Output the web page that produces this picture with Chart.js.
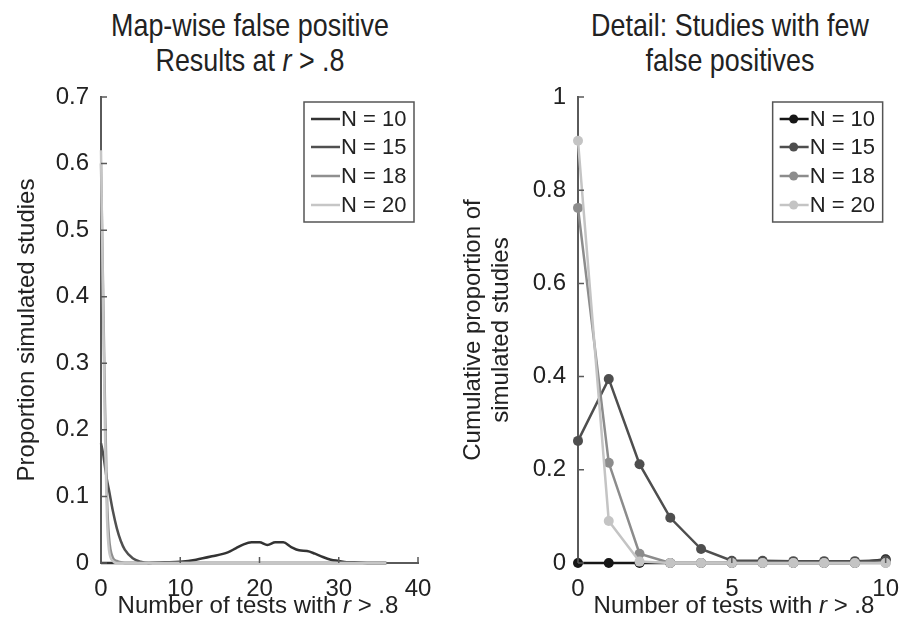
<!DOCTYPE html>
<html>
<head>
<meta charset="utf-8">
<script src="https://cdn.jsdelivr.net/npm/chart.js@4"></script>
<style>
  body { margin: 0; width: 911px; height: 639px; background: #fff; position: relative; overflow: hidden; font-family: "Liberation Sans", Arial, sans-serif; }
  .box { position: absolute; top: 0; height: 639px; }
  .title { position: absolute; top: 8px; width: 420px; text-align: center; font-family: "Liberation Sans Narrow", "Liberation Sans", sans-serif; font-size: 32px; line-height: 35px; color: #222; transform: scaleX(0.84); }
  .xlabel { position: absolute; top: 591px; width: 400px; text-align: center; font-size: 24px; line-height: 28px; color: #222; }
</style>
</head>
<body>
<div class="title" style="left:40px">Map-wise false positive<br>Results at <i>r</i> &gt; .8</div>
<div class="title" style="left:520px">Detail: Studies with few<br>false positives</div>
<div class="box" style="left:0;width:455px"><canvas id="left"></canvas></div>
<div class="box" style="left:455px;width:456px"><canvas id="right"></canvas></div>
<div class="xlabel" style="left:58px">Number of tests with <i>r</i> &gt; .8</div>
<div class="xlabel" style="left:534px">Number of tests with <i>r</i> &gt; .8</div>
<script>
// left panel: smoothed distribution
const leftX = [0, 0.25, 0.5, 0.75, 1, 1.5, 2, 2.5, 3, 4, 5, 6, 8, 10, 12, 14, 16, 17, 18, 19, 20, 21, 22, 23, 24, 25, 26, 27, 28, 29, 30, 31, 32, 34, 36];
const leftN10 = [0, 0, 0, 0, 0, 0, 0, 0, 0, 0, 0, 0, 0.001, 0.002, 0.005, 0.01, 0.016, 0.022, 0.028, 0.031, 0.031, 0.027, 0.031, 0.031, 0.024, 0.019, 0.018, 0.014, 0.009, 0.005, 0.003, 0.001, 0.001, 0, 0];
const leftN15 = [0.18, 0.165, 0.145, 0.125, 0.11, 0.078, 0.052, 0.033, 0.02, 0.007, 0.002, 0, 0, 0, 0, 0, 0, 0, 0, 0, 0, 0, 0, 0, 0, 0, 0, 0, 0, 0, 0, 0, 0, 0, 0];
const leftN18 = [0.6, 0.42, 0.24, 0.1, 0.04, 0.008, 0.003, 0.001, 0, 0, 0, 0, 0, 0, 0, 0, 0, 0, 0, 0, 0, 0, 0, 0, 0, 0, 0, 0, 0, 0, 0, 0, 0, 0, 0];
const leftN20 = [0.62, 0.4, 0.2, 0.07, 0.02, 0.003, 0, 0, 0, 0, 0, 0, 0, 0, 0, 0, 0, 0, 0, 0, 0, 0, 0, 0, 0, 0, 0, 0, 0, 0, 0, 0, 0, 0, 0];

// right panel: few false positives
const rightX = [0, 1, 2, 3, 4, 5, 6, 7, 8, 9, 10];
const rightN10 = [0, 0, 0, 0, 0, 0, 0, 0, 0, 0, 0.008];
const rightN15 = [0.262, 0.395, 0.212, 0.097, 0.03, 0.005, 0.005, 0.004, 0.004, 0.004, 0.006];
const rightN18 = [0.762, 0.215, 0.02, 0, 0, 0, 0, 0, 0, 0, 0];
const rightN20 = [0.906, 0.09, 0.003, 0, 0, 0, 0, 0, 0, 0, 0];

const seriesNames = ['N = 10', 'N = 15', 'N = 18', 'N = 20'];
const leftColors = ['#333333', '#505050', '#8f8f8f', '#c6c6c6'];
const rightColors = ['#161616', '#4e4e4e', '#8c8c8c', '#c4c4c4'];

const axisColor = '#5a5a5a';
const tickFont = { family: '"Liberation Sans", Arial, sans-serif', size: 24 };

function pts(xs, ys) {
    return xs.map((x, i) => ({ x: x, y: ys[i] }));
}

// MATLAB style ticks pointing into the plot
const inwardTicks = {
    id: 'inwardTicks',
    afterDraw(chart) {
        const ctx = chart.ctx;
        const xs = chart.scales.x, ys = chart.scales.y;
        ctx.save();
        ctx.strokeStyle = axisColor;
        ctx.lineWidth = 1.5;
        ctx.beginPath();
        xs.ticks.forEach(t => {
            const px = xs.getPixelForValue(t.value);
            ctx.moveTo(px, ys.bottom);
            ctx.lineTo(px, ys.bottom - 6);
        });
        ys.ticks.forEach(t => {
            const py = ys.getPixelForValue(t.value);
            ctx.moveTo(xs.left, py);
            ctx.lineTo(xs.left + 6, py);
        });
        ctx.stroke();
        ctx.restore();
    }
};

// boxed legend inside the top right corner
const boxLegend = {
    id: 'boxLegend',
    afterDatasetsDraw(chart, args, opts) {
        const ctx = chart.ctx;
        const area = chart.chartArea;
        const w = 110, h = 120;
        const left = area.right - opts.right - w;
        const top = area.top + 5;
        ctx.save();
        ctx.fillStyle = '#fff';
        ctx.fillRect(left, top, w, h);
        ctx.strokeStyle = '#555';
        ctx.lineWidth = 1.5;
        ctx.strokeRect(left, top, w, h);
        ctx.font = '22px "Liberation Sans", Arial, sans-serif';
        ctx.textBaseline = 'middle';
        const rows = [17, 45, 74, 103];
        chart.data.datasets.forEach((ds, i) => {
            const y = top + rows[i];
            ctx.strokeStyle = ds.borderColor;
            ctx.lineWidth = 2.5;
            ctx.beginPath();
            ctx.moveTo(left + 7, y);
            ctx.lineTo(left + 36, y);
            ctx.stroke();
            if (opts.markers) {
                ctx.fillStyle = ds.borderColor;
                ctx.beginPath();
                ctx.arc(left + 21, y, 4.5, 0, Math.PI * 2);
                ctx.fill();
            }
            ctx.fillStyle = '#222';
            ctx.fillText(ds.label, left + 37, y + 1);
        });
        ctx.restore();
    }
};

const fmt = v => String(+v.toFixed(2));

function makeChart(id, datasets, xOpts, yOpts, yTitle, padRight, yWidth, titlePad, titleLine, legendOpts) {
    return new Chart(document.getElementById(id), {
        type: 'line',
        data: { datasets: datasets },
        plugins: [inwardTicks, boxLegend],
        options: {
            responsive: true,
            maintainAspectRatio: false,
            animation: false,
            layout: { padding: { top: 97, right: padRight, left: 0, bottom: 0 } },
            plugins: { legend: { display: false }, tooltip: { enabled: false }, boxLegend: legendOpts },
            scales: {
                x: Object.assign({
                    type: 'linear',
                    grid: { display: false, drawTicks: false },
                    border: { display: true, color: axisColor, width: 2 },
                    afterFit(scale) { scale.height = 76; }
                }, xOpts),
                y: Object.assign({
                    grid: { display: false, drawTicks: false },
                    border: { display: true, color: axisColor, width: 2 },
                    title: { display: true, text: yTitle, color: '#222', font: { family: tickFont.family, size: 24, lineHeight: titleLine }, padding: { top: titlePad, bottom: 0 } },
                    afterFit(scale) { scale.width = yWidth; }
                }, yOpts)
            }
        }
    });
}

const leftSeries = [leftN10, leftN15, leftN18, leftN20];
const leftDatasets = leftSeries.map((ys, i) => ({
    label: seriesNames[i],
    data: pts(leftX, ys),
    borderColor: leftColors[i],
    borderWidth: 2.5,
    pointRadius: 0,
    cubicInterpolationMode: 'monotone',
    order: 4 - i,
    clip: false
}));

const rightSeries = [rightN10, rightN15, rightN18, rightN20];
const rightDatasets = rightSeries.map((ys, i) => ({
    label: seriesNames[i],
    data: pts(rightX, ys),
    borderColor: rightColors[i],
    backgroundColor: rightColors[i],
    borderWidth: 2.5,
    pointRadius: 5,
    pointBorderWidth: 0,
    tension: 0,
    order: 4 - i,
    clip: false
}));

makeChart('left', leftDatasets,
    { min: 0, max: 40, ticks: { color: '#222', font: tickFont, padding: 12, stepSize: 10, maxRotation: 0, callback: fmt } },
    { min: 0, max: 0.7, ticks: { color: '#222', font: tickFont, padding: 12, stepSize: 0.1, callback: fmt } },
    'Proportion simulated studies', 37, 101, 13, 1.2, { right: 4, markers: false });

makeChart('right', rightDatasets,
    { min: 0, max: 10, ticks: { color: '#222', font: tickFont, padding: 12, stepSize: 5, maxRotation: 0, callback: fmt } },
    { min: 0, max: 1, ticks: { color: '#222', font: tickFont, padding: 12, stepSize: 0.2, callback: fmt } },
    ['Cumulative proportion of', 'simulated studies'], 16, 123, 4, 1.17, { right: 3, markers: true });
</script>
</body>
</html>
